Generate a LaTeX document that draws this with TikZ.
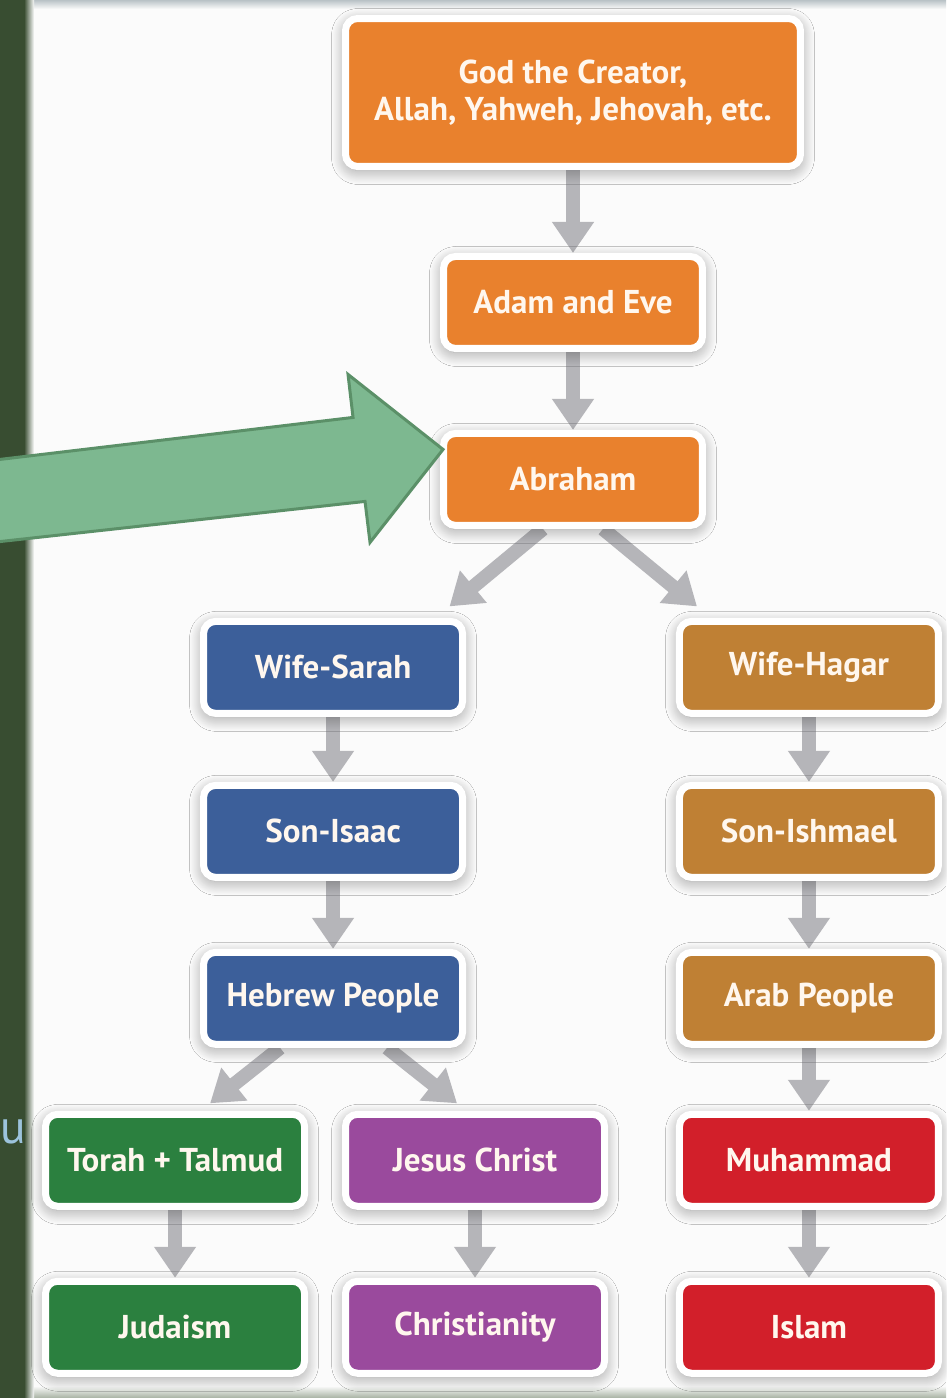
\documentclass[tikz,border=0pt]{standalone}
\usepackage{fontspec}
\setmainfont{PT Sans}
\usepackage{tikz}
\usetikzlibrary{arrows.meta, positioning, shadows.blur, backgrounds}
\definecolor{pagebg}{HTML}{FBFBFB}
\definecolor{stripgreen}{HTML}{384D31}
\definecolor{bandgrey}{HTML}{B9C2C6}
\definecolor{bandgreen}{HTML}{A7B2A2}
\definecolor{textcream}{HTML}{FFF7EE}
\definecolor{orangebox}{HTML}{E9812D}
\definecolor{bluebox}{HTML}{3C5F9A}
\definecolor{tanbox}{HTML}{BF8034}
\definecolor{greenbox}{HTML}{2B803F}
\definecolor{purplebox}{HTML}{9A4A9D}
\definecolor{redbox}{HTML}{D21F2A}
\definecolor{arrowgray}{HTML}{B5B5B9}
\definecolor{pointerfill}{HTML}{7DB890}
\definecolor{pointerline}{HTML}{5B9068}
\definecolor{fragblue}{HTML}{9CC3DC}
\tikzset{
  box/.style={
    rectangle, rounded corners=0.24cm, minimum width=5.18cm, minimum height=1.84cm,
    align=center, draw=white, line width=0.14cm, text=textcream,
    font=\fontsize{18.8}{21}\selectfont\bfseries,
    blur shadow={shadow xshift=0pt, shadow yshift=-0.08cm, shadow blur radius=0.28cm,
      shadow blur steps=25, shadow opacity=40}
  },
  ancestor/.style={box, fill=orangebox},
  sarahline/.style={box, fill=bluebox},
  hagarline/.style={box, fill=tanbox},
  judaic/.style={box, fill=greenbox},
  christian/.style={box, fill=purplebox},
  islamic/.style={box, fill=redbox},
  arrow/.style={
    -{Triangle[width=0.8cm,length=0.62cm]}, line width=0.28cm, draw=arrowgray
  },
  pointer/.style={fill=pointerfill, draw=pointerline, line width=0.06cm, line join=miter}
}

\begin{document}
\begin{tikzpicture}[x=0.02cm, y=-0.02cm]
\useasboundingbox (0,0) rectangle (946,1398);

\node[ancestor, minimum width=9.1cm, minimum height=2.96cm] (god) at (573,92.5) {God the Creator,\\ Allah, Yahweh, Jehovah, etc.};
\node[ancestor, below=1.66cm of god] (adam) {Adam and Eve};
\node[ancestor, below=1.56cm of adam] (abraham) {Abraham};

\node[sarahline, below=1.78cm of abraham, xshift=-4.8cm] (sarah) {Wife-Sarah};
\node[sarahline, below=1.3cm of sarah] (isaac) {Son-Isaac};
\node[sarahline, below=1.36cm of isaac] (hebrew) {Hebrew People};

\node[hagarline, below=1.78cm of abraham, xshift=4.72cm] (hagar) {Wife-Hagar};
\node[hagarline, below=1.3cm of hagar] (ishmael) {Son-Ishmael};
\node[hagarline, below=1.36cm of ishmael] (arab) {Arab People};

\node[judaic, below=1.26cm of hebrew, xshift=-3.16cm] (torah) {Torah + Talmud};
\node[judaic, below=1.36cm of torah] (judaism) {Judaism};
\node[christian, below=1.26cm of hebrew, xshift=2.84cm] (jesus) {Jesus Christ};
\node[christian, below=1.36cm of jesus] (christianity) {Christianity};
\node[islamic, below=1.26cm of arab] (muhammad) {Muhammad};
\node[islamic, below=1.36cm of muhammad] (islam) {Islam};

% big green arrow pointing at Abraham
\coordinate (aim) at ([xshift=0.06cm, yshift=0.6cm]abraham.west);
\begin{scope}[shift={(aim)}]
  \draw[pointer] (0,0) -- (-73,93) -- (-78,52) -- (-460,94) -- (-460,12) -- (-90,-32) -- (-95,-75) -- cycle;
\end{scope}

\node[anchor=base west, text=fragblue, font=\fontsize{27}{30}\selectfont, inner sep=0pt] (fragment) at (0,1143) {u};

\begin{scope}[on background layer]
  \fill[pagebg] (0,0) rectangle (946,1398);
  \shade[top color=bandgrey, bottom color=pagebg] (0,0) rectangle (946,9);
  \shade[top color=pagebg, bottom color=bandgreen] (0,1386) rectangle (946,1398);
  \fill[stripgreen] (0,0) rectangle (24,1398);
  \shade[left color=stripgreen, right color=pagebg] (24,0) rectangle (34,1398);

  \draw[arrow] (god) -- (adam);
  \draw[arrow] (adam) -- (abraham);
  \draw[arrow] ([xshift=-0.6cm]abraham.south) -- ([xshift=-0.33cm, yshift=0.23cm]sarah.north east);
  \draw[arrow] ([xshift=0.6cm]abraham.south) -- ([xshift=0.42cm, yshift=0.23cm]hagar.north west);
  \draw[arrow] (sarah) -- (isaac);
  \draw[arrow] (isaac) -- (hebrew);
  \draw[arrow] (hagar) -- (ishmael);
  \draw[arrow] (ishmael) -- (arab);
  \draw[arrow] ([xshift=-1.06cm]hebrew.south) -- ([xshift=0.7cm, yshift=0.15cm]torah.north);
  \draw[arrow] ([xshift=1.08cm]hebrew.south) -- ([xshift=-0.36cm, yshift=0.15cm]jesus.north);
  \draw[arrow] (arab) -- (muhammad);
  \draw[arrow] (torah) -- (judaism);
  \draw[arrow] (jesus) -- (christianity);
  \draw[arrow] (muhammad) -- (islam);
\end{scope}

\end{tikzpicture}
\end{document}
